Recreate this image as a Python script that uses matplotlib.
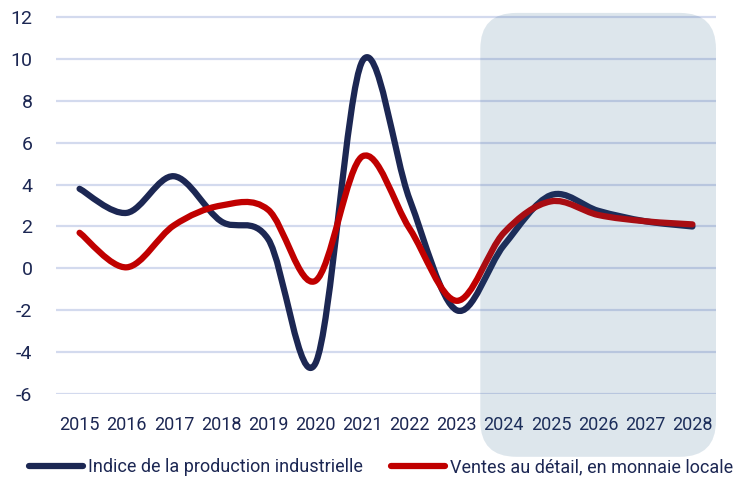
import matplotlib
matplotlib.use("Agg")
import matplotlib.pyplot as plt
import numpy as np
from matplotlib.path import Path
from matplotlib.patches import PathPatch, FancyBboxPatch
from matplotlib.lines import Line2D
from matplotlib.transforms import IdentityTransform

years = ["2015", "2016", "2017", "2018", "2019", "2020", "2021",
         "2022", "2023", "2024", "2025", "2026", "2027", "2028"]
production = [3.8, 2.65, 4.4, 2.25, 1.4, -4.55, 9.9, 3.3, -2.0, 1.1, 3.5, 2.75, 2.25, 2.0]
retail = [1.7, 0.05, 2.05, 3.0, 2.8, -0.6, 5.35, 1.9, -1.55, 1.7, 3.2, 2.55, 2.25, 2.1]
first_forecast = "2024"

NAVY = "#1c2753"
RED = "#c00000"
GRID = "#d3daee"

plt.rcParams["font.family"] = ["Roboto", "DejaVu Sans"]
plt.rcParams["axes.unicode_minus"] = False

W, H = 734, 483
fig = plt.figure(figsize=(W / 100, H / 100), dpi=100)
ax = fig.add_axes([56 / W, (H - 394) / H, 660 / W, (394 - 15) / H])

x = np.arange(len(years))
ax.set_xlim(-0.5, len(years) - 0.5)
ax.set_ylim(-6, 12.1)
ax.set_yticks(range(-6, 13, 2))
ax.set_xticks(x)
ax.set_xticklabels(years)
ax.grid(axis="y", color=GRID, linewidth=1.6)
ax.set_axisbelow(True)
for s in ax.spines.values():
    s.set_visible(False)
ax.tick_params(length=0, labelsize=13, labelcolor=NAVY)
ax.tick_params(axis="y", pad=17, labelsize=14)
ax.tick_params(axis="x", pad=16)


def smooth_path(xs, ys):
    # bezier segments like a spreadsheet "smoothed line"
    pts = np.column_stack([xs, ys]).astype(float)
    n = len(pts)
    verts = [pts[0]]
    codes = [Path.MOVETO]
    for i in range(n - 1):
        p0 = pts[max(i - 1, 0)]
        p1 = pts[i]
        p2 = pts[i + 1]
        p3 = pts[min(i + 2, n - 1)]
        c1 = p1 + (p2 - p0) / 6
        c2 = p2 - (p3 - p1) / 6
        verts += [c1, c2, p2]
        codes += [Path.CURVE4] * 3
    return Path(verts, codes)


for vals, col in [(production, NAVY), (retail, RED)]:
    ax.add_patch(PathPatch(smooth_path(x, vals), facecolor="none", edgecolor=col,
                           linewidth=4.5, capstyle="round", joinstyle="round", zorder=3))

# forecast panel, rounded box over the last years
fig.canvas.draw()
i0 = years.index(first_forecast)
(bx0, by0) = ax.transData.transform((i0 - 0.5, -9.0))
(bx1, by1) = ax.transData.transform((len(years) - 0.5, 12.2))
r = 36
panel = FancyBboxPatch((bx0 + r, by0 + r), bx1 - bx0 - 2 * r, by1 - by0 - 2 * r,
                       boxstyle=f"round,pad={r},rounding_size={r}",
                       transform=IdentityTransform(), facecolor="#1f5a86",
                       edgecolor="none", alpha=0.15, zorder=4)
fig.patches.append(panel)

handles = [Line2D([], [], color=NAVY, linewidth=4.5, solid_capstyle="round"),
           Line2D([], [], color=RED, linewidth=4.5, solid_capstyle="round")]
fig.legend(handles, ["Indice de la production industrielle",
                     "Ventes au détail, en monnaie locale"],
           loc="center", bbox_to_anchor=(381 / W, (H - 467) / H), ncol=2, frameon=False,
           fontsize=13, labelcolor=NAVY, handlelength=3.0, handletextpad=0.28,
           columnspacing=1.55, borderpad=0, borderaxespad=0)

fig.savefig("out.png", dpi=100)
